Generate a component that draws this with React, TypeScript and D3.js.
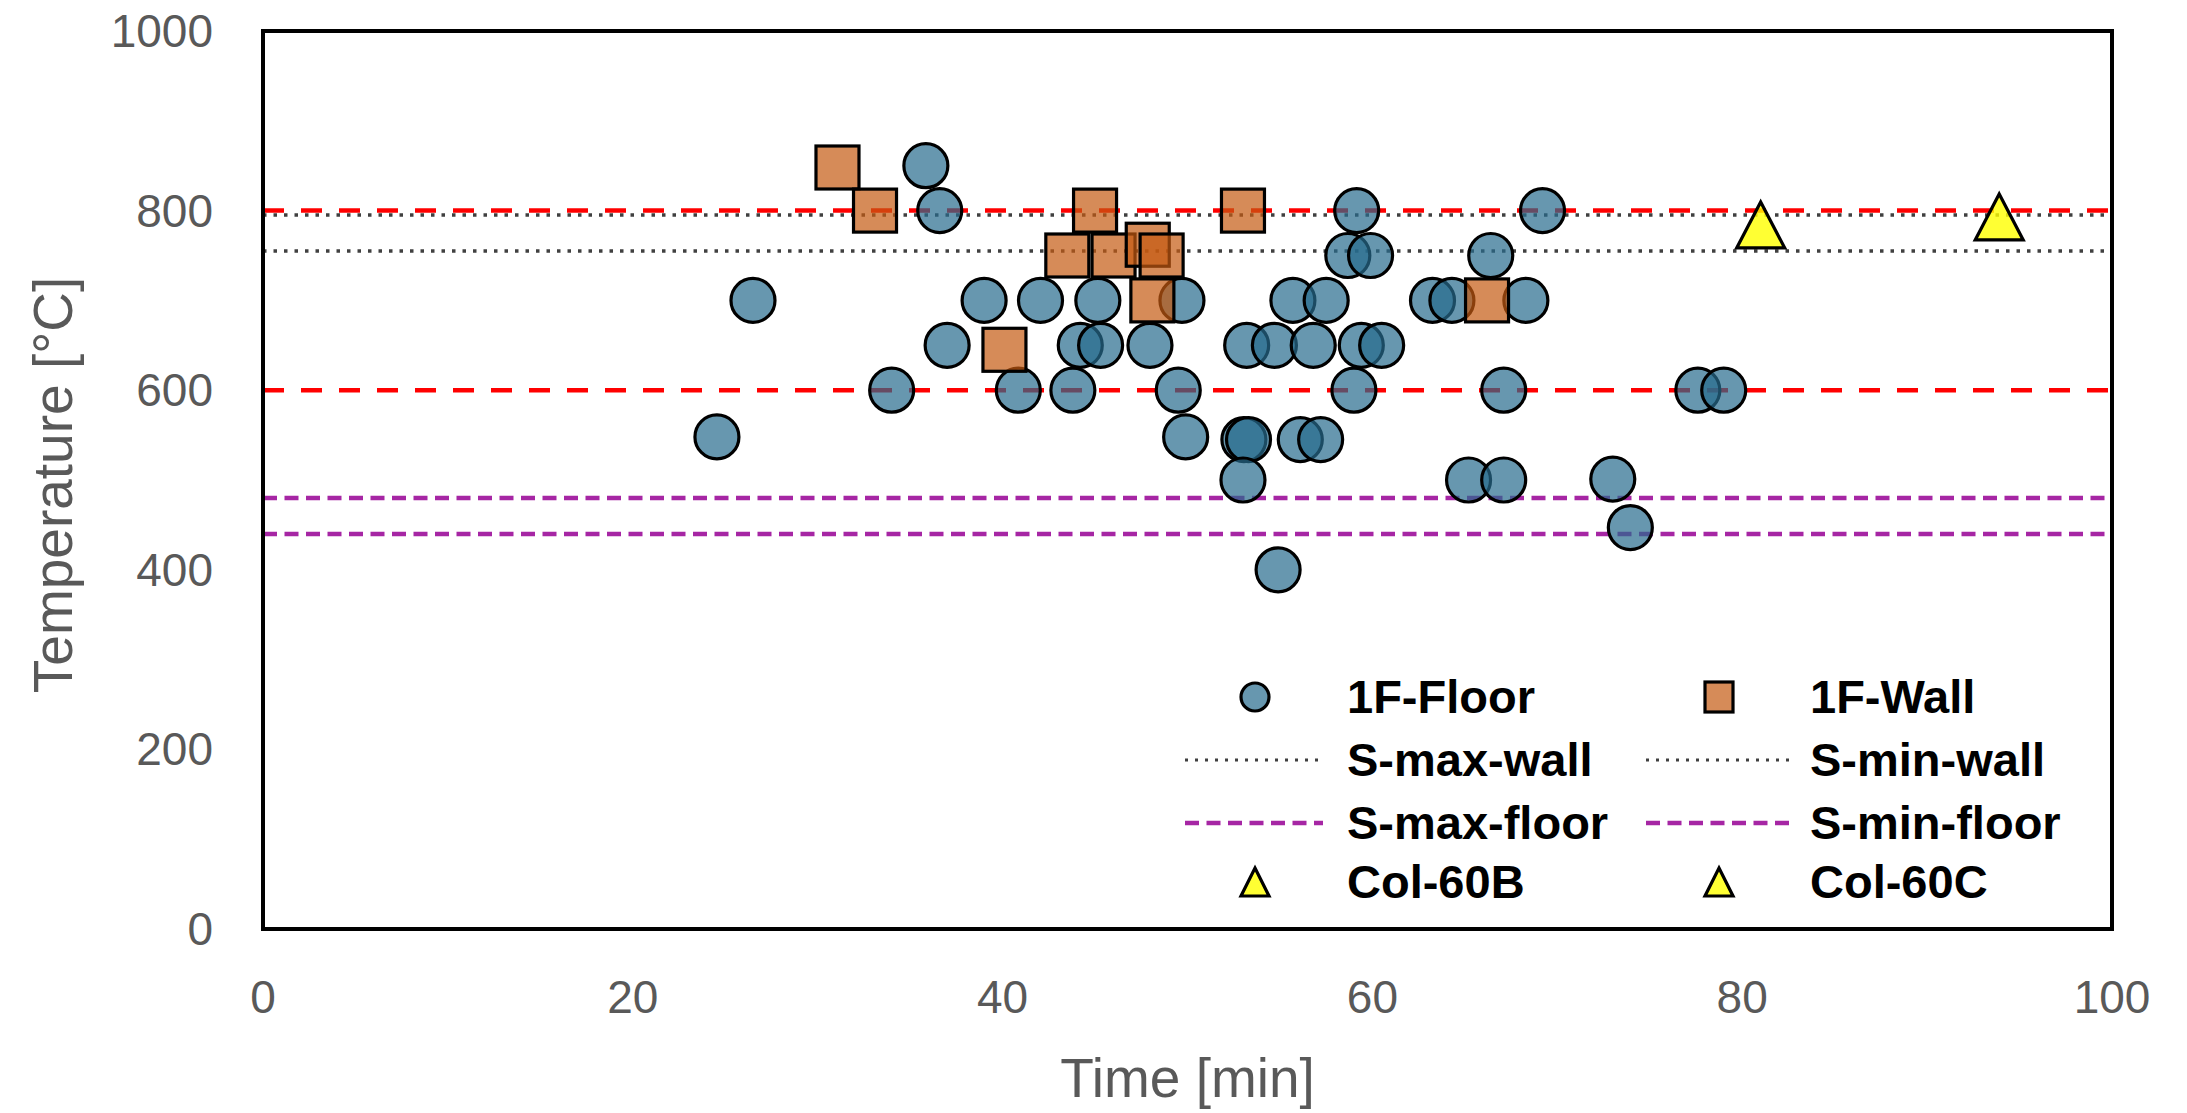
import React from "react";
import * as d3 from "d3";

// ---- data ----
const xTicks = [0, 20, 40, 60, 80, 100];
const yTicks = [0, 200, 400, 600, 800, 1000];

// 1F-Floor: [time (min), temperature (°C)]
const floorPoints: [number, number][] = [
  [35.85, 850],
  [36.6, 800], [59.15, 800], [69.2, 800],
  [58.67, 750], [59.9, 750], [66.4, 750],
  [26.5, 700], [39.0, 700], [42.05, 700], [45.15, 700], [49.7, 700], [55.7, 700], [57.5, 700], [63.25, 700], [64.3, 700], [68.3, 700],
  [37.0, 650], [44.2, 650], [45.3, 650], [47.97, 650], [53.2, 650], [54.7, 650], [56.8, 650], [59.4, 650], [60.5, 650],
  [34.0, 600], [40.85, 600], [43.8, 600], [49.5, 600], [59.0, 600], [67.1, 600], [77.6, 600], [79.0, 600],
  [24.55, 548], [49.9, 548], [53.05, 545], [53.3, 545], [56.1, 545], [57.2, 545],
  [53.0, 500], [65.2, 500], [67.1, 500], [73.0, 501],
  [73.95, 447],
  [54.9, 400],
];

// 1F-Wall
const wallPoints: [number, number][] = [
  [31.07, 848], [33.1, 800], [40.1, 645], [43.5, 750], [45.0, 800], [46.0, 750],
  [47.85, 762], [48.6, 750], [48.1, 700], [53.0, 800], [66.2, 700],
];

const col60B: [number, number][] = [[81.0, 784]];
const col60C: [number, number][] = [[93.9, 793]];

const redLimits = [800, 600];
const sMaxWall = 795;
const sMinWall = 755;
const sMaxFloor = 480;
const sMinFloor = 440;

// ---- layout ----
const W = 2187;
const H = 1113;
const L = 263, R = 2112, T = 31, B = 929;

const FONT = "'Liberation Sans', Arial, sans-serif";
const GRAY = "#595959";
const CIRCLE_FILL = "rgba(38,107,141,0.7)";
const SQUARE_FILL = "rgba(197,90,17,0.7)";
const TRI_FILL = "rgba(255,255,0,0.8)";
const PURPLE = "#A626A4";
const MSTROKE = 3.2;

const x = d3.scaleLinear().domain([0, 100]).range([L, R]);
const y = d3.scaleLinear().domain([0, 1000]).range([B, T]);

const hLine = (v: number) =>
  d3.line<number>().x((d) => x(d)).y(() => y(v))([0, 100]) || "";

const triPath = (cx: number, cy: number, w: number, h: number) =>
  `M${cx},${cy - h / 2}L${cx + w / 2},${cy + h / 2}L${cx - w / 2},${cy + h / 2}Z`;

const lineStyles = {
  wall: { stroke: "#404040", strokeWidth: 3.5, strokeDasharray: "3.5 7" },
  wallLegend: { stroke: "#404040", strokeWidth: 3, strokeDasharray: "3 7" },
  floor: { stroke: PURPLE, strokeWidth: 4.5, strokeDasharray: "14 7.5" },
};

export default function App() {
  const legendRows = [697, 760, 823, 882];
  const col1 = { x0: 1185, x1: 1323, mx: 1255, tx: 1347 };
  const col2 = { x0: 1646, x1: 1792, mx: 1719, tx: 1810 };
  const legendFont = { fontFamily: FONT, fontWeight: 700, fontSize: 47, fill: "#000" };

  return (
    <svg
      width={W}
      height={H}
      style={{ position: "absolute", left: 0, top: 0, display: "block", background: "#fff" }}
    >
      <rect x={0} y={0} width={W} height={H} fill="#fff" />

      {/* reference lines */}
      {redLimits.map((v) => (
        <path key={"r" + v} d={hLine(v)} stroke="#FF0000" strokeWidth={4.5} strokeDasharray="21 17" fill="none" />
      ))}
      <path d={hLine(sMaxWall)} fill="none" {...lineStyles.wall} />
      <path d={hLine(sMinWall)} fill="none" {...lineStyles.wall} />
      <path d={hLine(sMaxFloor)} fill="none" {...lineStyles.floor} />
      <path d={hLine(sMinFloor)} fill="none" {...lineStyles.floor} />

      {/* 1F-Floor */}
      {floorPoints.map(([t, v], i) => (
        <circle key={"f" + i} cx={x(t)} cy={y(v)} r={22} fill={CIRCLE_FILL} stroke="#000" strokeWidth={MSTROKE} />
      ))}
      {/* 1F-Wall */}
      {wallPoints.map(([t, v], i) => (
        <rect key={"w" + i} x={x(t) - 21.5} y={y(v) - 21.5} width={43} height={43} fill={SQUARE_FILL} stroke="#000" strokeWidth={MSTROKE} />
      ))}
      {/* Columns */}
      {[...col60B, ...col60C].map(([t, v], i) => (
        <path key={"c" + i} d={triPath(x(t), y(v), 48, 46)} fill={TRI_FILL} stroke="#000" strokeWidth={MSTROKE} strokeLinejoin="miter" />
      ))}

      {/* plot border */}
      <rect x={L} y={T} width={R - L} height={B - T} fill="none" stroke="#000" strokeWidth={4} />

      {/* axes tick labels */}
      {xTicks.map((t) => (
        <text key={"xt" + t} x={x(t)} y={1013} textAnchor="middle" fontFamily={FONT} fontSize={46} fill={GRAY}>
          {t}
        </text>
      ))}
      {yTicks.map((t) => (
        <text key={"yt" + t} x={213} y={y(t) + 16} textAnchor="end" fontFamily={FONT} fontSize={46} fill={GRAY}>
          {t}
        </text>
      ))}

      {/* axis titles */}
      <text x={(L + R) / 2} y={1097} textAnchor="middle" fontFamily={FONT} fontSize={55} fill={GRAY}>
        Time [min]
      </text>
      <text
        transform={`translate(72, ${(T + B) / 2 + 5}) rotate(-90)`}
        textAnchor="middle"
        fontFamily={FONT}
        fontSize={55}
        fill={GRAY}
      >
        Temperature [°C]
      </text>

      {/* legend */}
      <g>
        {/* row 1 */}
        <circle cx={col1.mx} cy={legendRows[0]} r={14} fill={CIRCLE_FILL} stroke="#000" strokeWidth={MSTROKE} />
        <text x={col1.tx} y={legendRows[0] + 16} {...legendFont}>1F-Floor</text>
        <rect x={col2.mx - 14} y={legendRows[0] - 15} width={28} height={30} fill={SQUARE_FILL} stroke="#000" strokeWidth={MSTROKE} />
        <text x={col2.tx} y={legendRows[0] + 16} {...legendFont}>1F-Wall</text>

        {/* row 2 */}
        <line x1={col1.x0} x2={col1.x1} y1={legendRows[1]} y2={legendRows[1]} {...lineStyles.wallLegend} />
        <text x={col1.tx} y={legendRows[1] + 16} {...legendFont}>S-max-wall</text>
        <line x1={col2.x0} x2={col2.x1} y1={legendRows[1]} y2={legendRows[1]} {...lineStyles.wallLegend} />
        <text x={col2.tx} y={legendRows[1] + 16} {...legendFont}>S-min-wall</text>

        {/* row 3 */}
        <line x1={col1.x0} x2={col1.x1} y1={legendRows[2]} y2={legendRows[2]} {...lineStyles.floor} />
        <text x={col1.tx} y={legendRows[2] + 16} {...legendFont}>S-max-floor</text>
        <line x1={col2.x0} x2={col2.x1} y1={legendRows[2]} y2={legendRows[2]} {...lineStyles.floor} />
        <text x={col2.tx} y={legendRows[2] + 16} {...legendFont}>S-min-floor</text>

        {/* row 4 */}
        <path d={triPath(col1.mx, legendRows[3], 28, 28)} fill={TRI_FILL} stroke="#000" strokeWidth={MSTROKE} />
        <text x={col1.tx} y={legendRows[3] + 16} {...legendFont}>Col-60B</text>
        <path d={triPath(col2.mx, legendRows[3], 28, 28)} fill={TRI_FILL} stroke="#000" strokeWidth={MSTROKE} />
        <text x={col2.tx} y={legendRows[3] + 16} {...legendFont}>Col-60C</text>
      </g>
    </svg>
  );
}
